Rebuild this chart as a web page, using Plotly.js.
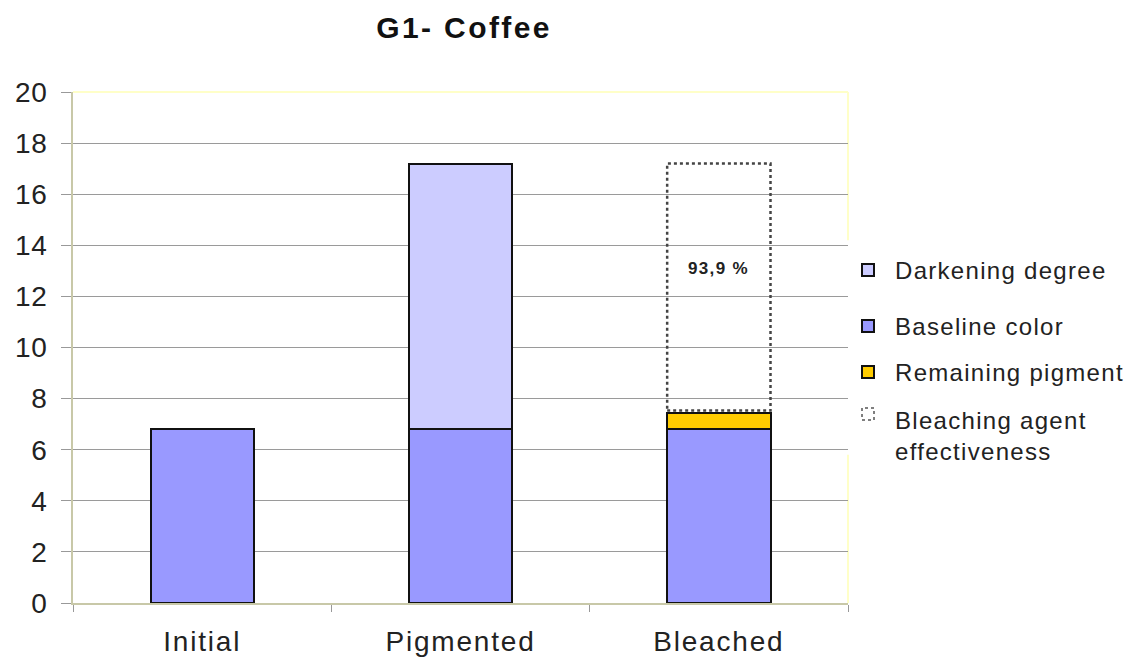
<!DOCTYPE html>
<html>
<head>
<meta charset="utf-8">
<script src="https://cdn.plot.ly/plotly-3.0.1.min.js"></script>
<style>
html,body{margin:0;padding:0;background:#fff;}
#chart{width:1142px;height:666px;}
#chart .xtick text{letter-spacing:1.8px;}
#chart .ytick text{letter-spacing:0.6px;}
#chart .gtitle{letter-spacing:2.4px;}
#chart .annotation-text{letter-spacing:1.3px;}
</style>
</head>
<body>
<div id="chart"></div>
<script>
// ---- data ----
const categories = ["Initial", "Pigmented", "Bleached"];
const baselineColor = [6.8, 6.8, 6.8];
const darkeningDegree = [null, 10.4, null];
const remainingPigment = [null, null, 0.65];
const bleachingEffectiveness = [null, null, 9.75];
const effectivenessLabel = "93,9 %";
const effectivenessLabelY = 13.1;
const legendNames = ["Darkening degree", "Baseline color", "Remaining pigment", "Bleaching agent<br>effectiveness"];

const FONT = "Liberation Sans, Arial, sans-serif";
const BARW = 0.4;
const lineStyle = {color: "#111", width: 2};

const traces = [
  {type: "bar", name: "Baseline color", x: categories, y: baselineColor, width: BARW,
   marker: {color: "#9999ff", line: lineStyle}},
  {type: "bar", name: "Darkening degree", x: categories, y: darkeningDegree, width: BARW,
   marker: {color: "#ccccff", line: lineStyle}},
  {type: "bar", name: "Remaining pigment", x: categories, y: remainingPigment, width: BARW,
   marker: {color: "#ffcc00", line: lineStyle}},
  {type: "bar", name: "Bleaching agent effectiveness", x: categories, y: bleachingEffectiveness, width: BARW,
   marker: {color: "rgba(0,0,0,0)", line: {width: 0}}}
];

const shapes = [];
const annotations = [];
// dotted effectiveness box from data
categories.forEach((c, i) => {
  if (bleachingEffectiveness[i] != null) {
    const base = (baselineColor[i] || 0) + (darkeningDegree[i] || 0) + (remainingPigment[i] || 0);
    shapes.push({type: "rect", xref: "x", yref: "y", x0: i - BARW / 2, x1: i + BARW / 2,
      y0: base + 0.08, y1: base + bleachingEffectiveness[i],
      line: {color: "#444", width: 2.5, dash: "dot"}, fillcolor: "rgba(0,0,0,0)", layer: "above"});
    annotations.push({xref: "x", yref: "y", x: i, y: effectivenessLabelY, text: "<b>" + effectivenessLabel + "</b>",
      showarrow: false, font: {family: FONT, size: 17, color: "#222"}});
  }
});

// plot border top/right (light yellow)
shapes.push({type: "line", xref: "paper", yref: "paper", x0: 0, x1: 1, y0: 1, y1: 1, line: {color: "#ffffc8", width: 2}, layer: "below"});
shapes.push({type: "line", xref: "paper", yref: "paper", x0: 1, x1: 1, y0: 1, y1: 0.71, line: {color: "#ffffc8", width: 2}, layer: "below"});
shapes.push({type: "line", xref: "paper", yref: "paper", x0: 1, x1: 1, y0: 0.29, y1: 0, line: {color: "#ffffc8", width: 2}, layer: "below"});

// custom legend (paper coords converted from pixels)
const W = 1142, H = 666, ML = 73, MR = 294, MT = 92, MB = 63;
const pw = W - ML - MR, ph = H - MT - MB;
const px = x => (x - ML) / pw;
const py = y => (H - MB - y) / ph;
const legendItems = [
  {name: legendNames[0], y: 270, fill: "#ccccff", dash: "solid"},
  {name: legendNames[1], y: 326, fill: "#9999ff", dash: "solid"},
  {name: legendNames[2], y: 372, fill: "#ffcc00", dash: "solid"},
  {name: legendNames[3], y: 414, fill: "rgba(0,0,0,0)", dash: "dot", textY: 436}
];
legendItems.forEach(it => {
  shapes.push({type: "rect", xref: "paper", yref: "paper", x0: px(862), x1: px(874), y0: py(it.y + 6), y1: py(it.y - 6),
    fillcolor: it.fill, line: {color: it.dash === "dot" ? "#555" : "#111", width: it.dash === "dot" ? 1.5 : 2, dash: it.dash}});
  annotations.push({xref: "paper", yref: "paper", x: px(893), y: py(it.textY || it.y), xanchor: "left", yanchor: "middle",
    align: "left", text: it.name, showarrow: false, font: {family: FONT, size: 24, color: "#222"}});
});

const layout = {
  width: W, height: H,
  margin: {l: ML, r: MR, t: MT, b: MB, pad: 0},
  paper_bgcolor: "#fff", plot_bgcolor: "#fff",
  barmode: "stack", showlegend: false,
  title: {text: "<b>G1- Coffee</b>", x: 464 / W, xref: "container", xanchor: "center",
    y: 1 - 27 / H, yref: "container", yanchor: "middle", font: {family: FONT, size: 30, color: "#111"}},
  font: {family: FONT, color: "#222"},
  xaxis: {type: "category", range: [-0.5, 2.5], tickson: "boundaries", ticks: "outside", ticklen: 7,
    tickcolor: "#999", showgrid: false, showline: true, linecolor: "#c8c8a8", linewidth: 2,
    tickfont: {family: FONT, size: 28, color: "#222"}, zeroline: false, ticklabelstandoff: 12},
  yaxis: {range: [0, 20], dtick: 2, ticks: "outside", ticklen: 10, tickcolor: "#999",
    showgrid: true, gridcolor: "#9a9a9a", gridwidth: 1, showline: true, linecolor: "#c8c8a8", linewidth: 2,
    tickfont: {family: FONT, size: 28, color: "#222"}, zeroline: false, ticklabelstandoff: 8},
  shapes: shapes,
  annotations: annotations
};

Plotly.newPlot("chart", traces, layout, {displayModeBar: false, staticPlot: true});
</script>
</body>
</html>
